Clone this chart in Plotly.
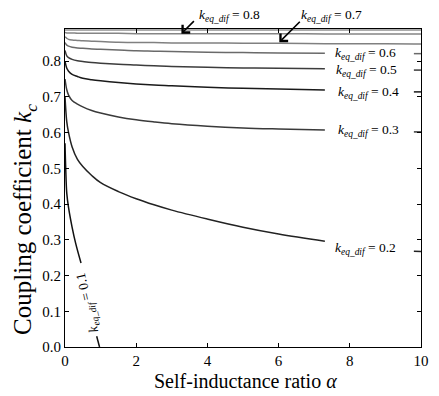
import plotly.graph_objects as go

# ---- data ----
alpha = [0, 0.05, 0.1, 0.2, 0.35, 0.5, 0.75, 1, 1.5, 2, 2.5, 3, 4, 5, 6, 7.3, 8.5, 9.8, 10]

k02 = [0.70, 0.63, 0.60, 0.56, 0.525, 0.505, 0.48, 0.46, 0.435, 0.415, 0.398, 0.383, 0.358, 0.335, 0.316, 0.296, 0.281, 0.268, 0.267]
k03 = [0.75, 0.72, 0.705, 0.69, 0.68, 0.672, 0.662, 0.655, 0.644, 0.636, 0.63, 0.625, 0.618, 0.613, 0.61, 0.607, 0.604, 0.602, 0.602]
k04 = [0.80, 0.78, 0.772, 0.763, 0.757, 0.752, 0.748, 0.745, 0.74, 0.736, 0.733, 0.731, 0.727, 0.724, 0.722, 0.719, 0.716, 0.714, 0.714]
k05 = [0.83, 0.815, 0.81, 0.805, 0.801, 0.799, 0.796, 0.794, 0.791, 0.789, 0.787, 0.785, 0.783, 0.781, 0.780, 0.779, 0.777, 0.775, 0.775]
k06 = [0.852, 0.845, 0.842, 0.839, 0.837, 0.836, 0.834, 0.833, 0.831, 0.829, 0.828, 0.827, 0.825, 0.824, 0.823, 0.822, 0.822, 0.821, 0.821]
k07 = [0.868, 0.864, 0.861, 0.859, 0.858, 0.857, 0.856, 0.855, 0.853, 0.852, 0.852, 0.851, 0.851, 0.850, 0.850, 0.849, 0.849, 0.848, 0.848]
k08 = [0.880, 0.879, 0.879, 0.879, 0.878, 0.878, 0.878, 0.878, 0.878, 0.877, 0.877, 0.877, 0.877, 0.877, 0.877, 0.876, 0.876, 0.876, 0.876]
k09 = [0.887, 0.887, 0.887, 0.887, 0.887, 0.887, 0.887, 0.887, 0.887, 0.887, 0.887, 0.887, 0.887, 0.887, 0.887, 0.887, 0.887, 0.887, 0.887]

alpha01 = [0, 0.02, 0.05, 0.1, 0.2, 0.3, 0.45, 0.6, 0.75, 0.89, 0.97]
k01 = [0.57, 0.50, 0.43, 0.39, 0.335, 0.29, 0.235, 0.17, 0.10, 0.03, 0.0]

x_ticks = [0, 2, 4, 6, 8, 10]
y_ticks = [0.0, 0.1, 0.2, 0.3, 0.4, 0.5, 0.6, 0.7, 0.8]

FONT = "Liberation Serif"

def gapped(xs, ys, lo, hi):
    return [None if (lo < a < hi) else v for a, v in zip(xs, ys)]

fig = go.Figure()

curves = [
    (k02, "#222222", True),
    (k03, "#3a3a3a", True),
    (k04, "#1a1a1a", True),
    (k05, "#3c3c3c", True),
    (k06, "#6a6a6a", True),
    (k07, "#808080", False),
    (k08, "#858585", False),
    (k09, "#909090", False),
]
for ys, col, gap in curves:
    yy = gapped(alpha, ys, 7.3, 9.8) if gap else ys
    fig.add_trace(go.Scatter(x=alpha, y=yy, mode="lines", line=dict(color=col, width=1.5, shape="spline"),
                             connectgaps=False, showlegend=False, hoverinfo="skip"))

fig.add_trace(go.Scatter(x=alpha01, y=gapped(alpha01, k01, 0.45, 0.89), mode="lines",
                         line=dict(color="#111111", width=1.5, shape="spline"),
                         connectgaps=False, showlegend=False, hoverinfo="skip"))

def lab(v):
    return "<i>k</i><sub><i>eq_dif</i></sub> = " + v

LF = dict(family=FONT, size=13.5, color="black")
annots = []
for v, xv, yv in [("0.6", 7.53, 0.822), ("0.5", 7.55, 0.773), ("0.4", 7.62, 0.711),
                  ("0.3", 7.62, 0.607), ("0.2", 7.53, 0.277)]:
    annots.append(dict(x=xv, y=yv, xref="x", yref="y", text=lab(v), showarrow=False,
                       font=LF, xanchor="left", yanchor="middle"))
# top labels with arrows (above the plot area)
annots.append(dict(x=3.72, y=1.044, xref="x", yref="paper", text=lab("0.8"), showarrow=False,
                   font=LF, xanchor="left", yanchor="middle"))
annots.append(dict(x=6.58, y=1.044, xref="x", yref="paper", text=lab("0.7"), showarrow=False,
                   font=LF, xanchor="left", yanchor="middle"))
annots.append(dict(x=3.27, y=0.877, xref="x", yref="y", text="", showarrow=True, axref="pixel", ayref="pixel",
                   ax=14, ay=-14, arrowhead=4, arrowsize=1.3, arrowwidth=1.6, arrowcolor="black"))
annots.append(dict(x=6.02, y=0.853, xref="x", yref="y", text="", showarrow=True, axref="pixel", ayref="pixel",
                   ax=22, ay=-22, arrowhead=4, arrowsize=1.3, arrowwidth=1.6, arrowcolor="black"))
# rotated label along the 0.1 curve
annots.append(dict(x=0.64, y=0.125, xref="x", yref="y", text=lab("0.1"),
                   showarrow=False, textangle=-103, font=LF))
# axis titles
annots.append(dict(x=0.506, y=-0.107, xref="paper", yref="paper", text="Self-inductance ratio <i>α</i>",
                   showarrow=False, font=dict(family=FONT, size=20, color="black"), xanchor="center", yanchor="middle"))
annots.append(dict(x=-0.112, y=0.40, xref="paper", yref="paper", text="Coupling coefficient <i>k</i><sub><i>c</i></sub>",
                   showarrow=False, textangle=-90, font=dict(family=FONT, size=25, color="black"), xanchor="center", yanchor="middle"))

# the page body has an 8px margin, so the figure is sized/offset to compensate
fig.update_layout(
    width=431, height=388,
    margin=dict(l=57, r=18, t=21, b=49),
    paper_bgcolor="white", plot_bgcolor="white",
    font=dict(family=FONT, color="black"),
    annotations=annots,
)
fig.update_xaxes(range=[0, 10], tickvals=x_ticks, ticktext=[str(t) for t in x_ticks],
                 ticks="inside", ticklen=4, tickcolor="black", mirror="ticks", showline=True,
                 linecolor="black", linewidth=1, showgrid=False, zeroline=False, automargin=False,
                 tickfont=dict(family=FONT, size=15, color="black"))
fig.update_yaxes(range=[0, 0.89], tickvals=y_ticks, ticktext=[f"{t:.1f}" for t in y_ticks],
                 ticks="inside", ticklen=4, tickcolor="black", mirror="ticks", showline=True,
                 linecolor="black", linewidth=1, showgrid=False, zeroline=False, automargin=False,
                 tickfont=dict(family=FONT, size=15, color="black"))

fig.write_html("out.html")
